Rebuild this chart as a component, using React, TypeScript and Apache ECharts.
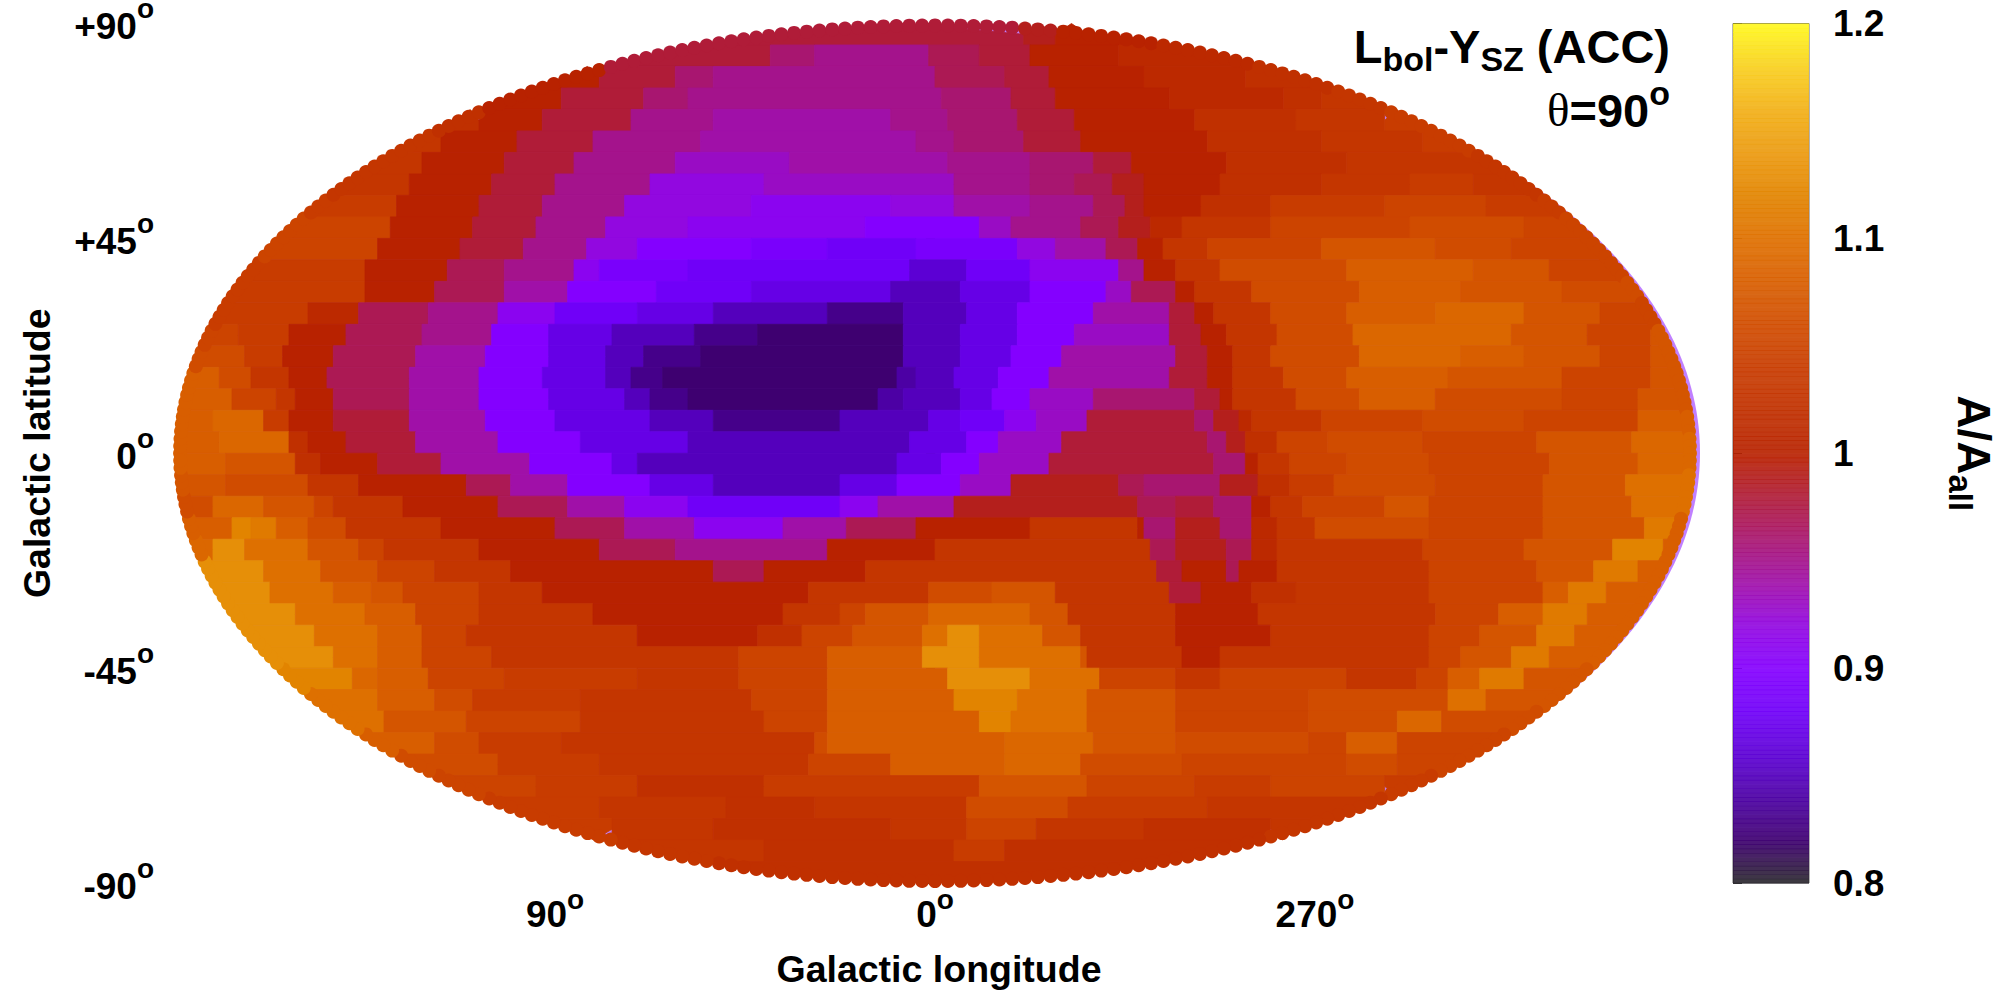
import React, { useEffect, useRef } from "react";
import * as echarts from "echarts";

// Sky map of A/A_all: 40 latitude rows (4.5 deg each, north to south) on a 240-column grid
// (1.5 deg each, +180 to -180). Each row is pairs: value in hundredths, column where that value ends.
const r00 = [98,134,99,139,100,240];
const r01 = [98,94,96,101,95,119,97,127,98,135,100,149,101,240];
const r02 = [100,67,98,79,96,85,95,120,97,131,98,138,100,153,101,169,102,240];
const r03 = [100,61,98,74,96,81,95,121,96,132,98,139,100,157,101,175,102,181,103,240];
const r04 = [102,48,100,58,98,72,95,85,94,113,95,122,96,133,98,142,100,161,102,177,103,191,104,240];
const r05 = [103,42,100,54,98,66,95,83,94,117,95,123,96,134,98,143,100,163,102,181,103,197,104,240];
const r06 = [103,39,100,52,98,63,95,79,93,97,94,122,95,135,96,145,98,151,100,166,102,185,103,240];
const r07 = [103,37,100,50,98,60,95,75,92,93,93,123,95,135,96,142,97,148,99,153,100,165,102,181,103,195,104,205,103,240];
const r08 = [104,35,100,48,98,58,95,71,92,91,91,113,92,123,94,135,95,145,97,150,99,153,100,162,102,173,104,191,105,207,104,240];
const r09 = [105,34,100,47,98,57,95,68,92,81,91,109,90,127,93,132,95,143,97,149,99,154,101,159,103,173,105,195,106,213,105,240];
const r10 = [105,32,100,45,98,55,95,65,92,73,90,91,89,103,88,117,89,133,92,139,94,147,97,152,100,156,103,163,105,181,107,199,106,211,105,240];
const r11 = [104,30,100,43,97,52,95,63,91,67,89,81,88,116,86,125,88,135,91,149,95,153,100,158,103,165,106,185,108,205,107,217,105,240];
const r12 = [104,30,100,41,97,52,94,62,90,76,88,91,87,113,85,124,87,135,90,147,93,151,97,158,100,161,103,170,106,187,108,203,107,219,106,240];
const r13 = [104,21,101,29,97,40,95,51,91,60,88,73,87,85,85,103,83,115,85,125,87,133,90,145,94,157,98,161,100,164,103,173,106,185,108,199,109,213,107,225,105,240];
const r14 = [105,10,104,18,100,27,97,39,95,50,90,59,87,69,85,82,83,92,82,115,85,124,87,133,90,142,93,157,98,162,100,166,103,174,106,186,109,211,107,223,105,233,107,240];
const r15 = [106,11,104,17,100,25,97,38,94,49,90,59,87,68,85,74,83,83,82,115,85,124,87,132,90,140,94,158,98,163,100,167,103,173,106,187,109,203,108,213,107,225,105,233,107,240];
const r16 = [108,7,106,12,103,18,100,24,97,37,94,48,90,58,87,68,85,72,83,77,82,114,84,117,85,123,87,130,90,138,94,157,98,163,100,167,103,175,106,185,108,201,107,219,105,233,107,240];
const r17 = [108,9,105,16,103,19,100,25,97,37,94,48,90,59,87,71,85,75,83,81,82,111,84,115,85,124,87,129,90,135,93,145,96,161,98,165,100,167,103,177,106,187,108,199,106,219,105,231,107,240];
const r18 = [108,6,109,14,104,18,100,25,98,37,94,49,90,60,87,75,85,85,83,105,85,119,87,124,88,131,91,136,93,144,98,161,96,164,99,168,101,170,103,181,105,197,106,213,105,231,108,240];
const r19 = [108,7,109,18,102,21,100,27,98,38,94,51,90,64,87,81,85,116,87,125,90,130,93,140,98,163,96,166,99,169,102,174,105,182,106,197,105,215,107,230,109,240];
const r20 = [108,8,107,19,102,23,100,32,98,42,94,56,90,69,87,73,85,114,87,121,90,127,93,138,98,164,96,169,100,171,103,176,105,185,106,198,105,217,107,231,109,240];
const r21 = [107,8,106,21,103,29,100,46,97,53,94,62,90,75,87,85,85,105,87,114,90,124,93,132,99,149,97,153,96,165,99,171,102,176,104,183,106,199,105,216,107,229,110,240];
const r22 = [106,6,109,14,107,22,105,25,103,36,100,51,97,62,94,71,91,81,88,105,91,111,94,123,99,152,97,158,98,164,96,170,100,173,103,178,105,191,107,198,105,216,107,230,110,240];
const r23 = [108,9,112,12,111,16,108,21,106,27,103,42,100,60,97,71,94,82,91,96,94,106,97,117,100,135,103,152,100,153,96,158,99,165,96,170,101,174,103,180,106,198,105,216,107,232,111,237,108,240];
const r24 = [109,6,113,11,110,21,107,29,105,33,103,48,100,67,97,79,95,103,100,120,103,154,97,158,99,166,97,170,101,174,103,197,105,213,107,227,112,235,108,240];
const r25 = [113,14,110,23,107,32,105,41,103,53,100,85,97,93,100,109,103,155,98,159,100,166,97,168,100,174,103,198,105,215,107,224,111,231,108,240];
const r26 = [113,15,110,25,108,31,107,36,105,48,103,58,100,100,103,119,106,129,107,139,103,157,98,162,100,170,102,177,103,198,105,216,108,220,111,226,108,240];
const r27 = [113,19,110,30,108,38,105,48,103,66,100,96,103,105,105,109,107,119,109,135,107,141,103,158,100,171,103,199,105,209,108,216,111,223,108,240];
const r28 = [113,22,110,32,108,39,105,46,103,73,100,92,102,99,105,107,107,118,110,122,113,127,110,137,107,143,103,158,100,173,103,198,105,206,107,215,111,221,108,240];
const r29 = [113,25,110,32,108,39,105,50,103,89,105,103,108,118,113,127,110,143,107,144,103,159,100,165,103,198,105,203,107,211,111,217,108,240];
const r30 = [112,28,109,32,108,40,105,52,104,73,103,89,105,103,108,122,113,135,110,146,105,158,103,165,105,185,103,196,105,201,108,206,111,213,107,240];
const r31 = [110,32,108,41,106,47,104,64,103,91,105,103,108,123,112,133,110,144,107,158,105,179,106,201,110,207,107,240];
const r32 = [110,33,107,46,105,64,103,93,105,103,108,127,112,132,110,144,107,158,105,179,106,193,109,200,106,240];
const r33 = [108,41,106,48,104,61,103,101,106,103,108,131,109,145,107,158,106,179,105,185,108,193,105,240];
const r34 = [106,51,104,67,103,100,105,113,108,131,109,143,106,159,105,185,106,193,105,240];
const r35 = [105,57,104,73,102,93,104,127,107,144,105,161,104,173,105,191,104,240];
const r36 = [104,67,103,87,102,101,103,125,106,141,104,163,103,240];
const r37 = [104,69,103,85,102,113,103,125,105,136,103,153,102,173,103,240];
const r38 = [103,93,102,123,104,131,102,240];
const r39 = [102,240];
const skyRows = [r00,r01,r02,r03,r04,r05,r06,r07,r08,r09,r10,r11,r12,r13,r14,r15,r16,r17,r18,r19,r20,r21,r22,r23,r24,r25,r26,r27,r28,r29,r30,r31,r32,r33,r34,r35,r36,r37,r38,r39];

const lonTicks = [90, 0, -90];
const paletteStops = ["#2c2a2e","#3e0070","#4c00a4","#5c00d4","#7000f8","#8400ff","#9208e0","#a010a8","#a81670","#b01c38","#b82200","#c03000","#c83c00","#d04c00","#d85e00","#de7000","#e28400","#eb9a10","#f2b018","#f8d020","#fff820"];

const ROW_DEG = 4.5, COL_DEG = 1.5, RIM_R = 7;
const ELL_LON = 178.8, ELL_LAT = 89.6;
const TOP_PAD = 40; // the canvas starts above the page so tall labels at the top are not pushed down
const baseFont = { fontFamily: "Liberation Sans", fontWeight: "bold" as const, color: "#000" };

function edgeLon(lat: number) {
  const k = 1 - (lat / ELL_LAT) ** 2;
  return k <= 0 ? 0 : ELL_LON * Math.sqrt(k);
}
function valueAt(lon: number, lat: number) {
  const r = skyRows[Math.max(0, Math.min(skyRows.length - 1, Math.floor((90 - lat) / ROW_DEG)))];
  const c = (180 - lon) / COL_DEG;
  for (let i = 0; i < r.length; i += 2) if (c < r[i + 1]) return r[i] / 100;
  return r[r.length - 2] / 100;
}

const cellData: number[][] = [];
skyRows.forEach((r, i) => {
  let start = 0;
  for (let k = 0; k < r.length; k += 2) {
    cellData.push([180 - start * COL_DEG, 180 - r[k + 1] * COL_DEG, 90 - (i + 0.5) * ROW_DEG, r[k] / 100]);
    start = r[k + 1];
  }
});
const rimData: number[][] = [];
for (let k = 0; k < 368; k++) {
  const t = (k / 368) * 2 * Math.PI;
  const lon = ELL_LON * Math.cos(t), lat = ELL_LAT * Math.sin(t);
  rimData.push([lon, lon, lat, valueAt(lon, lat)]);
}
const barData: number[][] = [];
for (let k = 0; k < 200; k++) barData.push([0, 1, 0.8 + k * 0.002, 0.801 + k * 0.002]);

export default function App() {
  const ref = useRef<HTMLDivElement>(null);
  useEffect(() => {
    if (!ref.current) return;
    const chart = echarts.init(ref.current, undefined, { renderer: "svg" });
    const renderCell = (_: any, api: any) => {
      const a = api.value(0), b = api.value(1), lat = api.value(2);
      const hi = Math.max(a, b), lo = Math.min(a, b);
      const top = lat + ROW_DEG / 2, bot = lat - ROW_DEG / 2;
      const span = (y: number) => {
        const e = edgeLon(y);
        const l = Math.max(lo, -e), h = Math.min(hi, e);
        return h > l ? [l, h] : null;
      };
      const st = span(top), sb = span(bot), sm = span(lat);
      if (!st && !sb && !sm) return null;
      const pt = st || (sm ? [(sm[0] + sm[1]) / 2, (sm[0] + sm[1]) / 2] : [sb![0], sb![0]]);
      const pb = sb || (sm ? [(sm[0] + sm[1]) / 2, (sm[0] + sm[1]) / 2] : [st![0], st![0]]);
      const pts: number[][] = [api.coord([pt[1], top]), api.coord([pt[0], top])];
      if (sm) pts.push(api.coord([sm[0], lat]));
      pts.push(api.coord([pb[0], bot]), api.coord([pb[1], bot]));
      if (sm) pts.push(api.coord([sm[1], lat]));
      const c = api.visual("color");
      return { type: "polygon", shape: { points: pts }, style: { fill: c, stroke: c, lineWidth: 0.8 } };
    };
    const renderRim = (_: any, api: any) => {
      const p = api.coord([api.value(0), api.value(2)]);
      return { type: "circle", shape: { cx: p[0], cy: p[1], r: RIM_R }, style: { fill: api.visual("color") } };
    };
    const renderBar = (_: any, api: any) => {
      const p0 = api.coord([0, api.value(2)]);
      const p1 = api.coord([1, api.value(2) + 0.002]);
      return {
        type: "rect",
        shape: { x: p0[0], y: p1[1], width: p1[0] - p0[0], height: p0[1] - p1[1] + 0.6 },
        style: { fill: api.visual("color"), opacity: 0.92 },
      };
    };
    const tickRich = {
      b: { ...baseFont, fontSize: 37, lineHeight: 44 },
      by: { ...baseFont, fontSize: 37, lineHeight: 44, padding: [6, 0, 0, 0] },
      sup: { ...baseFont, fontSize: 28, lineHeight: 44, padding: [0, 0, 30, 0] },
    };
    chart.setOption({
      animation: false,
      backgroundColor: "#fff",
      grid: [
        { left: 175, top: 23.5 + TOP_PAD, width: 1520, height: 859.5 },
        { left: 1733, top: 23.5 + TOP_PAD, width: 76, height: 859.5, show: true, borderColor: "#666", borderWidth: 1 },
      ],
      xAxis: [
        {
          type: "value", gridIndex: 0, min: -180, max: 180, inverse: true, position: "bottom",
          splitLine: { show: false }, axisLine: { show: false },
          axisTick: { show: true, length: 9, lineStyle: { color: "#999", width: 1 }, customValues: lonTicks },
          axisLabel: {
            ...baseFont, fontSize: 37, margin: 9, customValues: lonTicks,
            formatter: (v: number) => `{b|${v < 0 ? v + 360 : v}}{sup|o}`,
            rich: tickRich,
          },
          name: "Galactic longitude", nameLocation: "middle", nameGap: 67,
          nameTextStyle: { ...baseFont, fontSize: 37.5, padding: [0, 0, 0, 8] },
        },
        { type: "value", gridIndex: 1, min: 0, max: 1, show: false },
      ],
      yAxis: [
        {
          type: "value", gridIndex: 0, min: -90, max: 90, interval: 45,
          splitLine: { show: false }, axisLine: { show: false },
          axisTick: { show: true, length: 9, lineStyle: { color: "#333", width: 1 } },
          axisLabel: {
            ...baseFont, fontSize: 37, margin: 21,
            formatter: (v: number) => `{by|${v > 0 ? "+" : ""}${v}}{sup|o}`,
            rich: tickRich,
          },
          name: "Galactic latitude", nameLocation: "middle", nameRotate: 90, nameGap: 119,
          nameTextStyle: { ...baseFont, fontSize: 37.5 },
        },
        {
          type: "value", gridIndex: 1, min: 0.8, max: 1.2, interval: 0.1, position: "right",
          splitLine: { show: false }, axisLine: { show: true, lineStyle: { color: "#555", width: 1 } },
          axisTick: { show: true, length: 9, lineStyle: { color: "#333", width: 1 } },
          axisLabel: { ...baseFont, fontSize: 37, margin: 24 },
          name: "A/A{sub|all}", nameLocation: "middle", nameRotate: -90, nameGap: 135,
          nameTextStyle: {
            ...baseFont, fontSize: 46,
            rich: { sub: { ...baseFont, fontSize: 33, padding: [26, 0, 0, 0] } },
          },
        },
      ],
      visualMap: {
        type: "continuous", show: false, min: 0.8, max: 1.2, dimension: 3,
        seriesIndex: [0, 1, 2], inRange: { color: paletteStops },
      },
      graphic: [
        { type: "ellipse", z: -1, silent: true, shape: { cx: 939, cy: 453 + TOP_PAD, rx: 761, ry: 428 }, style: { fill: "#c080ff" } },
        {
          type: "text", x: 1670, y: 46 + TOP_PAD, z: 20,
          style: {
            text: "L{sub|bol}-Y{sub|SZ} (ACC)", align: "right", verticalAlign: "middle",
            font: "bold 47px 'Liberation Sans'", fill: "#000",
            rich: { sub: { font: "bold 34px 'Liberation Sans'", fill: "#000", padding: [26, 0, 0, 0] } },
          },
        },
        {
          type: "text", x: 1670, y: 110 + TOP_PAD, z: 20,
          style: {
            text: "{th|θ}=90{sup|o}", align: "right", verticalAlign: "middle",
            font: "bold 47px 'Liberation Sans'", fill: "#000",
            rich: {
              th: { font: "normal 47px 'Liberation Serif'", fill: "#000" },
              sup: { font: "bold 34px 'Liberation Sans'", fill: "#000", padding: [0, 0, 34, 0] },
            },
          },
        },
      ],
      series: [
        { type: "custom", name: "cells", xAxisIndex: 0, yAxisIndex: 0, coordinateSystem: "cartesian2d", clip: false, renderItem: renderCell, data: cellData, encode: { x: [0, 1], y: 2 }, silent: true },
        { type: "custom", name: "rim", xAxisIndex: 0, yAxisIndex: 0, coordinateSystem: "cartesian2d", clip: false, renderItem: renderRim, data: rimData, encode: { x: [0, 1], y: 2 }, silent: true },
        { type: "custom", name: "colorbar", xAxisIndex: 1, yAxisIndex: 1, coordinateSystem: "cartesian2d", renderItem: renderBar, data: barData, encode: { x: [0, 1], y: 2 }, silent: true },
      ],
    });
    return () => chart.dispose();
  }, []);
  return <div ref={ref} style={{ position: "fixed", left: 0, top: -TOP_PAD, width: 2000, height: 1000 + TOP_PAD }} />;
}
